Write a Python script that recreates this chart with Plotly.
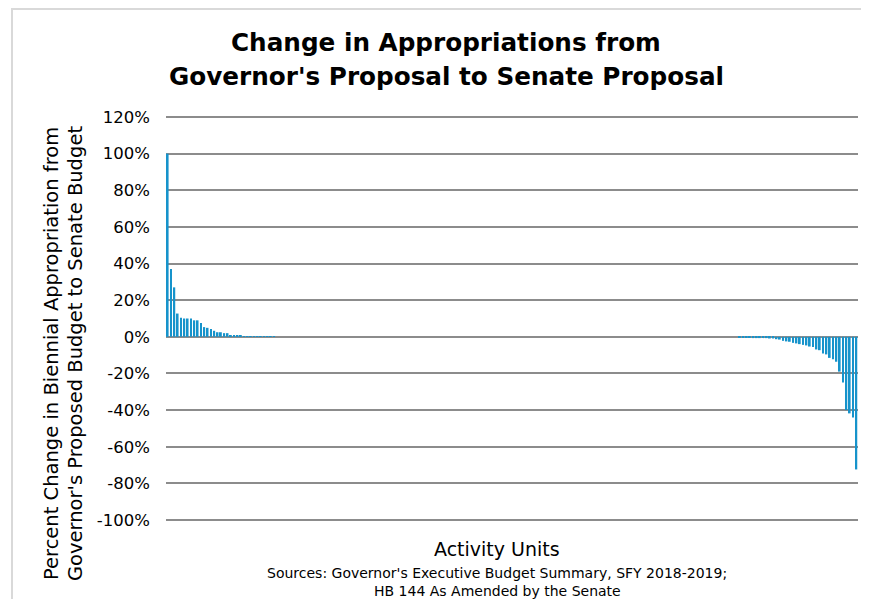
import plotly.graph_objects as go

# Percent change per activity unit (sorted)
positive_changes = [100, 37, 27, 12.7, 10.4, 10, 10, 10, 9, 9, 7.5, 5.3, 4.9, 4.2, 3.3,
                    2.5, 2.5, 2, 2, 0.9, 0.9, 0.7, 0.9,
                    0.3, 0.3, 0.3, 0.3, 0.3, 0.3, 0.3, 0.3, 0.3, 0.3]
zero_count = 139
negative_changes = [-0.4, -0.4, -0.4, -0.4, -0.7, -0.7, -0.7, -0.7, -0.7, -0.9,
                    -0.9, -1.3, -1.5, -2.2, -2.5, -2.7, -3.3, -3.6, -4.0, -4.4,
                    -4.7, -5.3, -5.5, -6.9, -7.3, -9.1, -9.6, -11.5, -12.2, -13.6,
                    -19, -25, -40, -41.8, -44, -72.4]

values = positive_changes + [0] * zero_count + negative_changes
units = list(range(1, len(values) + 1))

y_ticks = list(range(-100, 121, 20))
y_tick_labels = [f"{t}%" for t in y_ticks]

FONT = "Tahoma, DejaVu Sans, sans-serif"

# page body has an 8px margin: draw in figure coordinates = reference - 8
OFF = 8
W, H = 869 - 2 * OFF, 607 - 2 * OFF
L, R, T, B = 166 - OFF, 858 - OFF, 116 - OFF, 521 - OFF

def px(x):
    return (x - OFF - L) / (R - L)
def py(y):
    return (B - (y - OFF)) / (B - T)

fig = go.Figure()
fig.add_trace(go.Bar(x=units, y=values, marker=dict(color="#1693cb", line=dict(width=0)),
                     width=0.55, hoverinfo="y"))

annotations = [
    dict(text="<b>Change in Appropriations from</b>", x=px(446), y=py(42), font=dict(size=24.7, color="black")),
    dict(text="<b>Governor's Proposal to Senate Proposal</b>", x=px(446), y=py(76), font=dict(size=24.7, color="black")),
    dict(text="Activity Units", x=px(497), y=py(549), font=dict(size=19, color="black")),
    dict(text="Sources: Governor's Executive Budget Summary, SFY 2018-2019;", x=px(497), y=py(573), font=dict(size=14, color="black")),
    dict(text="HB 144 As Amended by the Senate", x=px(497), y=py(591), font=dict(size=14, color="black")),
    dict(text="Percent Change in Biennial Appropriation from", x=px(51), y=py(354), textangle=-90, font=dict(size=19.5, color="black")),
    dict(text="Governor's Proposed Budget to Senate Budget", x=px(75), y=py(354), textangle=-90, font=dict(size=19.5, color="black")),
]
for a in annotations:
    a.update(xref="paper", yref="paper", showarrow=False, xanchor="center", yanchor="middle")

fig.update_layout(
    width=W, height=H,
    margin=dict(l=L, r=W - R, t=T, b=H - B, autoexpand=False),
    paper_bgcolor="white", plot_bgcolor="white",
    font=dict(family=FONT, color="black"),
    showlegend=False,
    bargap=0.5,
    annotations=annotations,
    shapes=[dict(type="rect", xref="paper", yref="paper",
                 x0=px(12), x1=px(900), y0=py(640), y1=py(9),
                 line=dict(color="#d9d9d9", width=2), fillcolor="rgba(0,0,0,0)", layer="below")],
    xaxis=dict(range=[0.5, len(values) + 0.5], showticklabels=False, showgrid=False,
               zeroline=False, showline=False, ticks=""),
    yaxis=dict(range=[-100.55, 120.55], tickvals=y_ticks, ticktext=y_tick_labels,
               showgrid=True, gridcolor="#8c8c8c", gridwidth=2,
               zeroline=True, zerolinecolor="#8c8c8c", zerolinewidth=2,
               showline=False, ticks="", ticklabelstandoff=15,
               tickfont=dict(size=16.5, color="black")),
)

fig.write_html("out.html")
